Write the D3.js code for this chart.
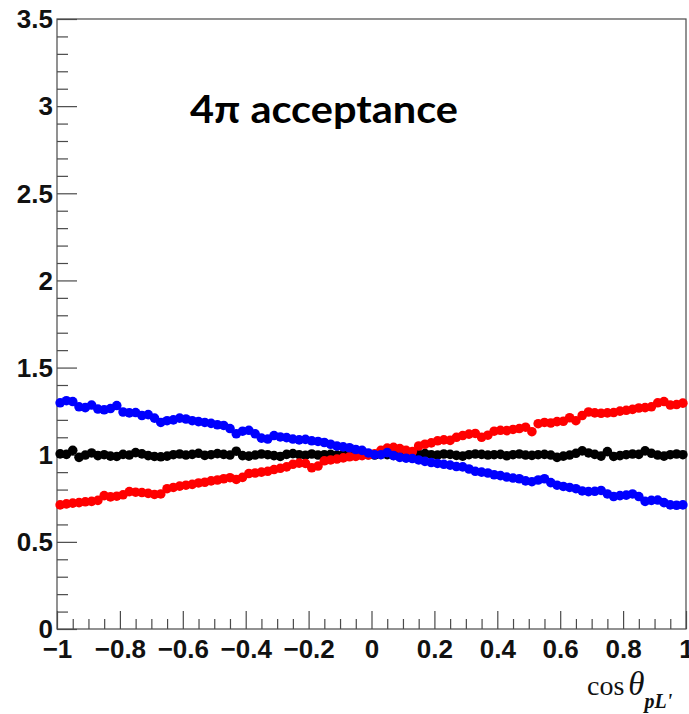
<!DOCTYPE html>
<html><head><meta charset="utf-8">
<script src="https://cdn.jsdelivr.net/npm/d3@7/dist/d3.min.js"></script>
<style>
html,body{margin:0;padding:0;background:#fff;}
svg{display:block;}
</style></head>
<body>
<script>
// ---- data ----
const binCenters = d3.range(100).map(i => -0.99 + 0.02 * i);
const redValues = [
0.712,0.718,0.722,0.725,0.730,0.732,0.738,0.765,0.758,0.762,
0.770,0.788,0.785,0.783,0.778,0.772,0.775,0.805,0.812,0.820,
0.825,0.830,0.838,0.842,0.850,0.855,0.862,0.868,0.858,0.870,
0.892,0.895,0.900,0.905,0.915,0.922,0.930,0.945,0.952,0.950,
0.925,0.935,0.965,0.970,0.975,0.982,0.988,0.990,0.995,0.998,
1.005,1.025,1.038,1.042,1.035,1.025,1.018,1.050,1.060,1.068,
1.080,1.085,1.082,1.100,1.110,1.118,1.122,1.100,1.112,1.135,
1.140,1.138,1.145,1.150,1.158,1.132,1.178,1.185,1.182,1.190,
1.192,1.212,1.195,1.225,1.245,1.240,1.238,1.240,1.242,1.250,
1.255,1.260,1.268,1.270,1.275,1.298,1.305,1.285,1.288,1.296];
const blueValues = [
1.298,1.310,1.305,1.275,1.270,1.285,1.262,1.258,1.265,1.282,
1.245,1.240,1.242,1.225,1.230,1.210,1.185,1.195,1.200,1.210,
1.205,1.195,1.190,1.185,1.180,1.172,1.168,1.150,1.120,1.135,
1.140,1.120,1.095,1.090,1.110,1.102,1.098,1.090,1.085,1.088,
1.080,1.076,1.070,1.060,1.050,1.045,1.040,1.030,1.025,1.010,
1.000,1.000,1.012,0.995,0.985,0.980,0.978,0.970,0.962,0.955,
0.950,0.945,0.940,0.932,0.930,0.918,0.905,0.900,0.895,0.885,
0.880,0.872,0.866,0.862,0.850,0.845,0.855,0.862,0.840,0.825,
0.818,0.812,0.805,0.792,0.788,0.790,0.795,0.775,0.760,0.765,
0.768,0.775,0.760,0.732,0.738,0.740,0.725,0.712,0.710,0.712];
const blackValues = [
1.005,1.002,1.025,0.985,0.998,1.010,0.995,1.000,0.992,0.990,
1.002,0.998,1.012,1.005,0.995,0.990,0.988,0.992,1.000,1.004,
0.998,1.002,1.008,0.996,1.000,1.006,1.002,0.998,1.020,0.995,
0.992,0.998,1.004,1.000,0.995,0.990,1.002,1.006,1.000,0.996,
1.004,0.998,1.000,1.002,0.998,1.000,1.004,0.998,1.002,1.000,
0.998,1.002,1.000,0.996,1.004,1.000,0.998,1.002,1.006,1.000,
0.998,1.004,1.002,0.996,0.992,1.000,1.004,1.002,0.998,1.000,
1.002,0.994,1.000,1.004,0.998,0.996,1.000,1.002,0.998,0.985,
0.992,0.998,1.008,1.022,1.010,1.002,0.992,1.018,0.990,0.995,
1.000,1.004,1.002,1.022,1.008,0.998,0.992,1.000,1.004,1.000];
const xTickValues = [-1,-0.8,-0.6,-0.4,-0.2,0,0.2,0.4,0.6,0.8,1];
const xTickLabels = ["\u22121","\u22120.8","\u22120.6","\u22120.4","\u22120.2","0","0.2","0.4","0.6","0.8","1"];
const yTickValues = [0,0.5,1,1.5,2,2.5,3,3.5];
const yTickLabels = ["0","0.5","1","1.5","2","2.5","3","3.5"];
const titleText = "4\u03c0 acceptance";

// ---- layout ----
const W = 689, H = 714;
const L = 57, R = 686, T = 19, B = 629;
const svg = d3.select("body").append("svg").attr("width", W).attr("height", H);
const x = d3.scaleLinear().domain([-1, 1]).range([L, R]);
const y = d3.scaleLinear().domain([0, 3.5]).range([B, T]);
const axisColor = "#4a4a4a";
const tickFont = "'Liberation Sans', Arial, Helvetica, sans-serif";

// frame
svg.append("rect").attr("x", L).attr("y", T).attr("width", R - L).attr("height", B - T)
  .attr("fill", "none").attr("stroke", axisColor).attr("stroke-width", 1.2);

// minor ticks
const yMinor = d3.range(0, 3.5001, 0.1).filter(v => Math.abs(v * 2 - Math.round(v * 2)) > 1e-6);
svg.append("g").attr("transform", `translate(${L},0)`)
  .call(d3.axisRight(y).tickValues(yMinor).tickSize(11).tickFormat(""))
  .call(g => g.select(".domain").remove())
  .call(g => g.selectAll("line").attr("stroke", axisColor).attr("stroke-width", 1.2));
const xMinor = d3.range(-1, 1.0001, 0.05).filter(v => Math.abs(v * 5 - Math.round(v * 5)) > 1e-6);
svg.append("g").attr("transform", `translate(0,${B})`)
  .call(d3.axisTop(x).tickValues(xMinor).tickSize(10).tickFormat(""))
  .call(g => g.select(".domain").remove())
  .call(g => g.selectAll("line").attr("stroke", axisColor).attr("stroke-width", 1.2));

// major ticks + labels
svg.append("g").attr("transform", `translate(${L},0)`)
  .call(d3.axisLeft(y).tickValues(yTickValues).tickSizeInner(-20).tickSizeOuter(0).tickPadding(4)
        .tickFormat((d, i) => yTickLabels[i]))
  .call(g => g.select(".domain").remove())
  .call(g => g.selectAll("line").attr("stroke", axisColor).attr("stroke-width", 1.2))
  .call(g => g.selectAll("text").attr("font-family", tickFont).attr("font-weight", "bold")
        .attr("font-size", 26).attr("fill", "#111").attr("dy", "0.34em"));
svg.append("g").attr("transform", `translate(0,${B})`)
  .call(d3.axisBottom(x).tickValues(xTickValues).tickSizeInner(-18).tickSizeOuter(0)
        .tickFormat((d, i) => xTickLabels[i]))
  .call(g => g.select(".domain").remove())
  .call(g => g.selectAll("line").attr("stroke", axisColor).attr("stroke-width", 1.2))
  .call(g => g.selectAll("text").attr("font-family", tickFont).attr("font-weight", "bold")
        .attr("font-size", 26).attr("fill", "#111").attr("y", 29).attr("dy", 0));

// data markers
const series = [
  {values: blackValues, color: "#000000"},
  {values: redValues, color: "#ff0000"},
  {values: blueValues, color: "#0000ff"}
];
series.forEach(s => {
  svg.append("g").selectAll("circle").data(s.values).join("circle")
    .attr("cx", (d, i) => x(binCenters[i]))
    .attr("cy", d => y(d))
    .attr("r", 4.8)
    .attr("fill", s.color);
});

// title
svg.append("text").attr("x", 190).attr("y", 123)
  .attr("font-family", "Lato, 'Open Sans', sans-serif").attr("font-weight", "bold")
  .attr("font-size", 39).attr("textLength", 268).attr("lengthAdjust", "spacingAndGlyphs")
  .attr("fill", "#000").text(titleText);

// x axis title
const xt = svg.append("text").attr("x", 587).attr("y", 695)
  .attr("font-family", "'Liberation Serif', 'Times New Roman', serif").attr("fill", "#111");
xt.append("tspan").attr("font-size", 28).text("cos");
xt.append("tspan").attr("font-size", 33).attr("font-style", "italic").attr("dx", 4).text("\u03b8");
xt.append("tspan").attr("font-size", 20).attr("font-style", "italic").attr("font-weight", "bold")
  .attr("dy", 13).text("pL'");
</script>
</body></html>
